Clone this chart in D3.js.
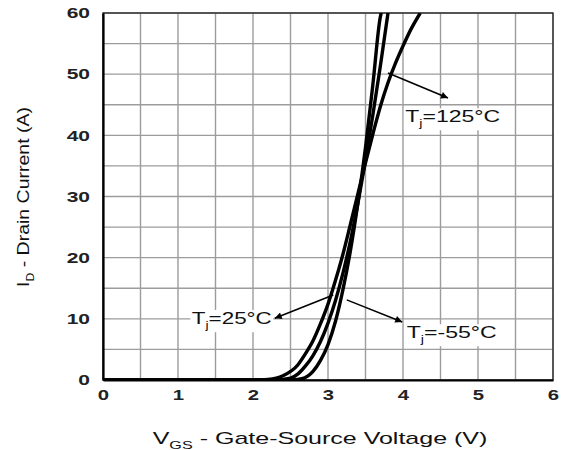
<!DOCTYPE html>
<html>
<head>
<meta charset="utf-8">
<script src="https://cdn.jsdelivr.net/npm/d3@7"></script>
<style>
  html, body { margin: 0; padding: 0; background: #fff; }
  svg { display: block; font-family: "Liberation Sans", Arial, sans-serif; }
</style>
</head>
<body>
<svg id="chart" width="564" height="450"></svg>
<script>
// Transfer characteristics: drain current vs gate-source voltage

// [VGS (V), ID (A)]
const curve125 = [[0, 0], [2.0, 0], [2.2, 0.1], [2.4, 0.7], [2.6, 2.5], [2.7, 4.3], [2.8, 6.4],
  [2.9, 9.2], [3.0, 12.4], [3.1, 16.3], [3.2, 20.6], [3.3, 25.5], [3.4, 30.5], [3.5, 35.5],
  [3.6, 40.3], [3.7, 44.8], [3.8, 48.6], [3.9, 51.8], [4.0, 54.6], [4.1, 57.2], [4.23, 60]];
const curve25 = [[0, 0], [2.3, 0], [2.5, 0.3], [2.6, 1], [2.7, 2.3], [2.8, 4], [2.9, 6.3],
  [3.0, 9.3], [3.1, 13], [3.2, 17.5], [3.3, 22.8], [3.4, 29], [3.5, 36], [3.6, 43.5],
  [3.7, 51.5], [3.8, 60]];
const curveM55 = [[0, 0], [2.5, 0], [2.65, 0.2], [2.8, 1.4], [2.9, 3.2], [3.0, 5.8], [3.1, 9.6],
  [3.2, 14.8], [3.3, 21.2], [3.4, 29], [3.5, 38], [3.6, 48.5], [3.7, 59.5], [3.71, 60]];

const xTicks = [0, 1, 2, 3, 4, 5, 6];
const yTicks = [0, 10, 20, 30, 40, 50, 60];
const xGrid = d3.range(0, 6.001, 0.5);
const yGrid = d3.range(0, 60.001, 5);

// annotation: label anchor + arrow from curve to label (data units)
const labels = [
  { t: "125", lx: 4.03, ly: 42.2, anchor: "start", w: 95, from: [3.80, 50.2], to: [4.60, 46.1] },
  { t: "25", lx: 2.25, ly: 9.2, anchor: "end", w: 80, from: [3.07, 13.9], to: [2.29, 10.1] },
  { t: "-55", lx: 4.05, ly: 6.9, anchor: "start", w: 90, from: [3.25, 13.1], to: [3.99, 9.5] }
];

const svg = d3.select("#chart");
const margin = { top: 13, right: 11, bottom: 70, left: 103 };
const W = 564, H = 450;

const x = d3.scaleLinear().domain([0, 6]).range([margin.left, W - margin.right]);
const y = d3.scaleLinear().domain([0, 60]).range([H - margin.bottom, margin.top]);

const defs = svg.append("defs");
defs.append("clipPath").attr("id", "plot-clip")
  .append("rect")
  .attr("x", x(0)).attr("y", y(60))
  .attr("width", x(6) - x(0)).attr("height", y(0) - y(60));

defs.append("marker")
  .attr("id", "arrow")
  .attr("viewBox", "0 0 10 10")
  .attr("refX", 10).attr("refY", 5)
  .attr("markerWidth", 12).attr("markerHeight", 7)
  .attr("markerUnits", "userSpaceOnUse")
  .attr("orient", "auto")
  .append("path")
  .attr("d", "M0,0L10,5L0,10Z")
  .attr("fill", "#000");

// grid
const grid = svg.append("g").attr("stroke", "#9c9c9c").attr("stroke-width", 1.4);
grid.selectAll("line.v").data(xGrid).join("line")
  .attr("class", "v")
  .attr("x1", d => x(d)).attr("x2", d => x(d))
  .attr("y1", y(0)).attr("y2", y(60));
grid.selectAll("line.h").data(yGrid).join("line")
  .attr("class", "h")
  .attr("x1", x(0)).attr("x2", x(6))
  .attr("y1", d => y(d)).attr("y2", d => y(d));

// frame
svg.append("rect")
  .attr("x", x(0)).attr("y", y(60))
  .attr("width", x(6) - x(0)).attr("height", y(0) - y(60))
  .attr("fill", "none").attr("stroke", "#222").attr("stroke-width", 1.3);

// axes (labels only, no tick marks)
const xAxis = svg.append("g")
  .attr("transform", `translate(0,${y(0)})`)
  .call(d3.axisBottom(x).tickValues(xTicks).tickSize(0).tickFormat(d3.format("d")));
xAxis.select(".domain").attr("stroke", "#000").attr("stroke-width", 2.2);
xAxis.selectAll("text")
  .attr("y", 20).attr("dy", 0)
  .attr("fill", "#222")
  .style("font-size", "14px").style("font-weight", "bold")
  .attr("transform", "scale(1.45,1)");

const yAxis = svg.append("g")
  .attr("transform", `translate(${x(0)},0)`)
  .call(d3.axisLeft(y).tickValues(yTicks).tickSize(0).tickFormat(d3.format("d")));
yAxis.select(".domain").attr("stroke", "#000").attr("stroke-width", 2.2);
yAxis.selectAll("text")
  .attr("x", -13 / 1.5).attr("dy", "0.34em")
  .attr("fill", "#222")
  .style("font-size", "14px").style("font-weight", "bold")
  .attr("transform", "scale(1.5,1)");

// curves
const line = d3.line()
  .x(d => x(d[0]))
  .y(d => y(d[1]))
  .curve(d3.curveMonotoneX);

svg.append("g")
  .attr("clip-path", "url(#plot-clip)")
  .selectAll("path")
  .data([curve125, curve25, curveM55])
  .join("path")
  .attr("d", line)
  .attr("fill", "none")
  .attr("stroke", "#000")
  .attr("stroke-width", 3.4)
  .attr("stroke-linejoin", "round");

// horizontal scale factor so a text fits a target width
function fitWidth(text, targetW) {
  return targetW / text.node().getBBox().width;
}

// annotations
labels.forEach(l => {
  svg.append("line")
    .attr("x1", x(l.from[0])).attr("y1", y(l.from[1]))
    .attr("x2", x(l.to[0])).attr("y2", y(l.to[1]))
    .attr("stroke", "#000").attr("stroke-width", 1.6)
    .attr("marker-end", "url(#arrow)");

  const g = svg.append("g");
  const t = g.append("text")
    .attr("fill", "#111")
    .style("font-size", "16px")
    .attr("text-anchor", l.anchor);
  t.append("tspan").text("T");
  t.append("tspan").text("j").style("font-size", "10px").attr("dy", 5);
  t.append("tspan").text("=" + l.t + "°C").attr("dy", -5);

  const sx = fitWidth(t, l.w);
  g.attr("transform", `translate(${x(l.lx)},${y(l.ly)}) scale(${sx},1)`);
  const bb = t.node().getBBox();
  g.insert("rect", "text")
    .attr("x", bb.x - 1).attr("y", bb.y + 1)
    .attr("width", bb.width + 2).attr("height", bb.height)
    .attr("fill", "#fff");
});

// axis titles
const xt = svg.append("g");
const xText = xt.append("text")
  .attr("text-anchor", "middle")
  .attr("fill", "#111")
  .style("font-size", "17px");
xText.append("tspan").text("V");
xText.append("tspan").text("GS").style("font-size", "11px").attr("dy", 5);
xText.append("tspan").text(" - Gate-Source Voltage (V)").attr("dy", -5);
xt.attr("transform", `translate(320,444) scale(${fitWidth(xText, 335)},1)`);

const yt = svg.append("g");
const yText = yt.append("text")
  .attr("text-anchor", "middle")
  .attr("fill", "#111")
  .style("font-size", "16px");
yText.append("tspan").text("I");
yText.append("tspan").text("D").style("font-size", "10px").attr("dy", 5);
yText.append("tspan").text(" - Drain Current (A)").attr("dy", -5);
yt.attr("transform", `translate(29,197) rotate(-90) scale(${fitWidth(yText, 180)},1)`);
</script>
</body>
</html>
